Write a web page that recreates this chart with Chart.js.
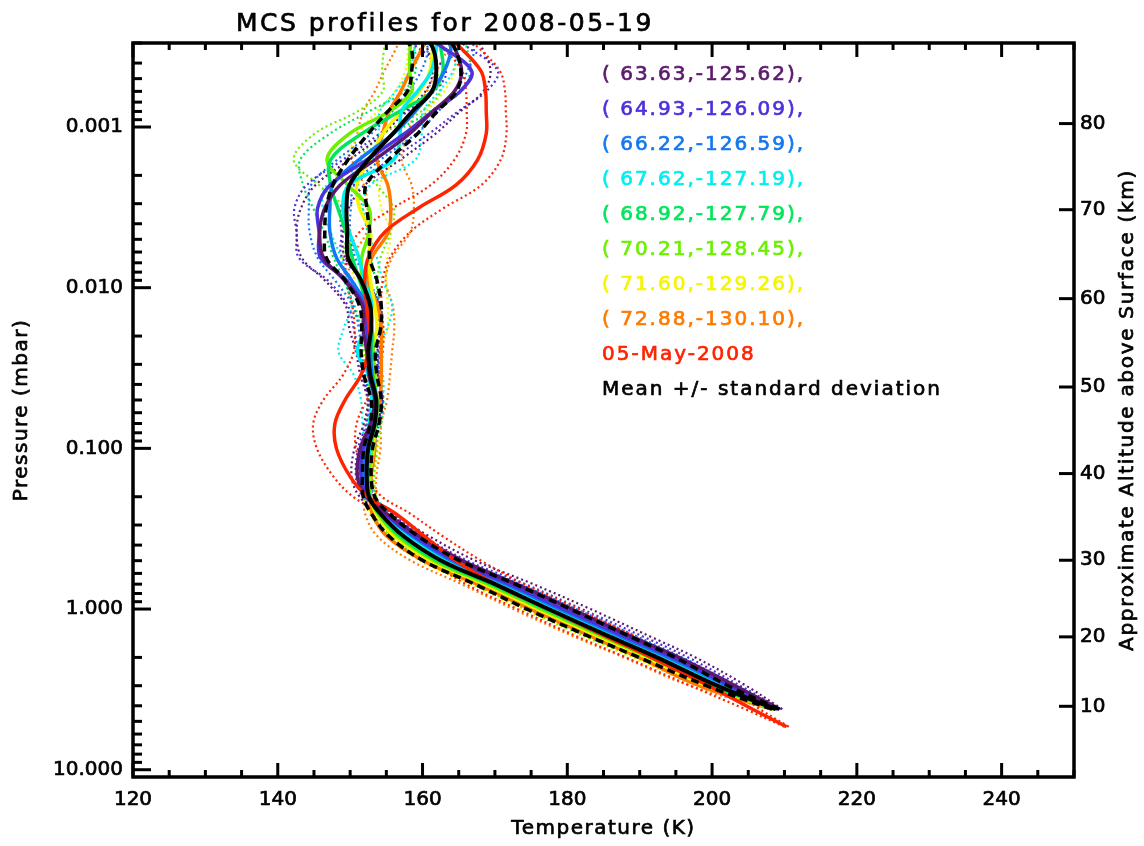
<!DOCTYPE html>
<html>
<head>
<meta charset="utf-8">
<title>MCS profiles for 2008-05-19</title>
<script src="https://cdn.jsdelivr.net/npm/chart.js@4.4.1/dist/chart.umd.min.js"></script>
<style>
  html, body { margin: 0; padding: 0; background: #fff; }
  #wrap { width: 1144px; height: 846px; }
</style>
</head>
<body>
<div id="wrap"><canvas id="profileChart" width="1144" height="846"></canvas></div>
<script>
// Pressure levels (mbar) shared by every profile, surface side first
const pressure = [5.4, 4.2, 3.0, 2.0, 1.5, 1.0, 0.7, 0.5, 0.35, 0.25, 0.2, 0.15, 0.1, 0.07, 0.05,
  0.035, 0.025, 0.018, 0.013, 0.009, 0.0065, 0.0045, 0.0032, 0.0023, 0.0016, 0.0011, 0.0008,
  0.0006, 0.00045, 0.00032, 0.00025];

// Axis ticks
const tempTicks = [120, 140, 160, 180, 200, 220, 240];
const pressureTicks = [0.001, 0.01, 0.1, 1, 10];
const altitudeKm = [80, 70, 60, 50, 40, 30, 20, 10];
const altitudePressure = [0.000952, 0.00327, 0.0117, 0.0415, 0.1435, 0.497, 1.49, 4.03];

// Profile labels (lat, lon)
const locLabels = ['( 63.63,-125.62),', '( 64.93,-126.09),', '( 66.22,-126.59),', '( 67.62,-127.19),',
  '( 68.92,-127.79),', '( 70.21,-128.45),', '( 71.60,-129.26),', '( 72.88,-130.10),'];
const refLabel = '05-May-2008';
const meanLabel = 'Mean +/- standard deviation';

// Temperature (K) of each location profile, one value per pressure level
const temp6363 = [null, 209.3, 203.2, 195.4, 189.1, 180.6, 173.0, 165.5, 159.5, 154.8, 152.2, 151.0, 151.4, 152.8, 153.4,
  152.6, 152.3, 151.8, 151.7, 149.2, 146.3, 145.8, 146.5, 148.6, 153.4, 158.2, 161.4, 164.4, 165.4, 164.4, 163.0];
const temp6493 = [null, 209.1, 202.5, 194.5, 188.2, 179.5, 172.0, 164.5, 158.8, 154.6, 152.5, 151.5, 151.8, 153.0, 153.5,
  152.8, 152.5, 152.3, 151.9, 149.5, 145.9, 145.7, 145.5, 147.2, 152.3, 157.5, 161.4, 165.2, 166.8, 162.8, 159.0];
const temp6622 = [null, 209.0, 202.1, 193.9, 187.6, 178.9, 171.5, 164.0, 158.5, 154.5, 152.6, 151.9, 152.2, 153.2, 153.6,
  153.0, 152.8, 152.8, 152.3, 150.2, 148.1, 147.2, 147.2, 147.6, 151.2, 156.0, 159.0, 161.2, 163.0, 163.9, 162.5];
const temp6762 = [null, 208.9, 201.7, 193.4, 187.1, 178.4, 171.0, 163.6, 158.1, 154.4, 152.7, 152.3, 152.7, 152.7, 153.0,
  152.5, 151.0, 152.1, 153.0, 152.0, 151.2, 149.9, 149.0, 149.8, 156.0, 156.9, 157.1, 159.3, 161.2, 161.9, 161.9];
const temp6892 = [null, 208.7, 200.2, 191.9, 185.6, 176.9, 169.5, 162.1, 156.9, 153.9, 152.7, 152.4, 152.7, 153.5, 153.7,
  153.1, 152.9, 153.0, 152.4, 151.3, 150.3, 149.4, 148.3, 147.3, 147.3, 151.6, 156.8, 161.4, 162.8, 162.5, 161.9];
const temp7021 = [null, 208.6, 199.7, 191.4, 185.1, 176.4, 169.0, 161.6, 156.5, 153.7, 152.8, 152.6, 153.0, 153.0, 153.4,
  153.4, 153.2, 153.0, 152.0, 151.6, 151.6, 152.6, 152.6, 149.7, 146.8, 149.9, 155.4, 158.5, 158.2, 158.3, 158.5];
const temp7160 = [null, 208.5, 199.2, 190.9, 184.6, 175.9, 168.5, 161.1, 156.0, 153.5, 152.8, 152.7, 153.2, 153.4, 153.6,
  153.4, 153.0, 153.7, 153.4, 152.8, 152.6, 152.8, 151.3, 150.9, 152.7, 154.5, 157.1, 159.6, 161.0, 161.4, 161.5];
const temp7288 = [null, 208.3, 198.2, 189.9, 183.6, 174.9, 167.5, 160.1, 155.0, 153.0, 152.8, 152.9, 153.4, 153.4, 154.1,
  154.3, 154.3, 154.3, 153.8, 152.4, 153.0, 155.3, 155.6, 155.2, 153.7, 154.5, 155.4, 157.0, 158.3, 160.0, 161.0];

// Standard deviation (K) of each location profile
const std6363 = [null, 0.4, 1.5, 2.3, 2.6, 2.6, 2.3, 1.8, 1.3, 1.0, 0.9, 0.8, 0.8, 0.9, 1.0,
  1.2, 1.5, 1.9, 2.3, 2.7, 3.0, 3.2, 3.3, 3.4, 3.5, 3.6, 3.8, 4.0, 4.0, 3.8, 3.8];
const std6493 = [null, 0.4, 1.4, 2.2, 2.5, 2.5, 2.2, 1.7, 1.2, 0.9, 0.8, 0.7, 0.7, 0.8, 1.0,
  1.1, 1.4, 1.8, 2.2, 2.6, 3.0, 3.1, 3.2, 3.2, 3.3, 3.4, 3.5, 3.6, 3.6, 3.5, 3.5];
const std6622 = [null, 0.3, 1.2, 2.0, 2.3, 2.3, 2.0, 1.6, 1.2, 0.9, 0.8, 0.7, 0.7, 0.8, 0.9,
  1.0, 1.3, 1.6, 1.9, 2.3, 2.6, 2.8, 2.9, 3.0, 3.0, 3.1, 3.2, 3.2, 3.2, 3.2, 3.2];
const std6762 = [null, 0.3, 1.2, 2.0, 2.3, 2.3, 2.0, 1.6, 1.2, 0.9, 0.8, 0.7, 0.8, 1.0, 1.5,
  2.0, 2.6, 3.0, 2.8, 2.5, 2.5, 2.6, 2.8, 3.0, 3.0, 3.0, 3.0, 3.0, 3.0, 3.0, 3.0];
const std6892 = [null, 0.3, 1.1, 1.9, 2.2, 2.2, 1.9, 1.5, 1.1, 0.9, 0.8, 0.7, 0.7, 0.8, 0.9,
  1.0, 1.2, 1.5, 1.8, 2.2, 2.6, 3.0, 3.4, 3.8, 4.2, 4.4, 4.2, 4.0, 3.8, 3.6, 3.5];
const std7021 = [null, 0.3, 1.1, 1.9, 2.2, 2.2, 1.9, 1.5, 1.1, 0.9, 0.8, 0.7, 0.7, 0.8, 0.9,
  1.0, 1.2, 1.5, 1.8, 2.2, 2.6, 3.0, 3.4, 4.0, 4.6, 4.8, 4.4, 4.0, 3.8, 3.6, 3.5];
const std7160 = [null, 0.3, 1.1, 1.9, 2.2, 2.2, 1.9, 1.5, 1.1, 0.9, 0.8, 0.7, 0.7, 0.8, 0.9,
  1.0, 1.2, 1.5, 1.8, 2.2, 2.5, 2.8, 3.0, 3.2, 3.3, 3.4, 3.4, 3.4, 3.4, 3.4, 3.4];
const std7288 = [null, 0.3, 1.3, 2.1, 2.4, 2.4, 2.1, 1.7, 1.3, 1.0, 0.8, 0.7, 0.8, 0.9, 1.0,
  1.2, 1.5, 1.8, 2.1, 2.5, 2.8, 3.0, 3.2, 3.3, 3.4, 3.5, 3.6, 3.6, 3.6, 3.6, 3.6];

// 05-May-2008 reference profile and its spread
const may05Temp = [210.3, 205.6, 199.5, 191.6, 185.6, 177.3, 170.0, 164.6, 160.2, 156.0, 152.4, 150.0, 148.1, 147.9, 149.3,
  151.5, 152.5, 152.6, 152.3, 152.0, 152.5, 154.8, 159.4, 164.6, 167.6, 168.8, 168.8, 168.7, 168.1, 165.2, 162.3];
const may05Std = [0.3, 1.0, 2.5, 3.5, 4.0, 4.2, 4.0, 3.5, 2.5, 2.0, 2.0, 2.3, 2.7, 3.0, 3.0,
  2.5, 2.0, 2.0, 2.0, 2.5, 3.0, 3.5, 3.5, 3.5, 3.2, 2.8, 2.7, 2.7, 2.6, 2.5, 2.5];

// Mean of all locations and its standard deviation
const meanTemp = [null, 208.8, 200.7, 192.4, 186.1, 177.4, 170.0, 162.6, 157.3, 154.0, 152.6, 152.3, 152.5, 153.4, 153.6,
  152.8, 152.5, 152.9, 152.8, 151.5, 149.7, 149.6, 149.5, 149.9, 152.5, 155.9, 158.6, 161.3, 161.9, 161.4, 159.5];
const meanStd = [null, 0.5, 1.5, 2.5, 2.8, 3.0, 2.8, 2.5, 2.0, 1.2, 0.8, 0.6, 0.6, 0.6, 0.7,
  0.9, 1.0, 1.3, 1.5, 2.2, 3.0, 3.1, 2.8, 2.3, 2.8, 3.4, 3.4, 3.4, 3.4, 3.0, 3.0];

const locTemps = [temp6363, temp6493, temp6622, temp6762, temp6892, temp7021, temp7160, temp7288];
const locStds = [std6363, std6493, std6622, std6762, std6892, std7021, std7160, std7288];

// Styling
const FONT = '"DejaVu Sans", sans-serif';
const locColors = ['#5c1a6e', '#4b32dc', '#1478f0', '#00eeee', '#00e65a', '#6cf000', '#f5f500', '#ff7a00'];
const refColor = '#ff2400';
const chartTitle = 'MCS profiles for 2008-05-19';

// Turn a temperature column into {x, y} points, shifted by sign * std
function profilePoints(temps, std, sign) {
  return pressure
    .map((p, i) => ({ x: temps[i] === null ? null : temps[i] + (std ? sign * std[i] : 0), y: p }))
    .filter(pt => pt.x !== null);
}

function solidLine(temps, color, width, order) {
  return { data: profilePoints(temps), borderColor: color, borderWidth: width, order: order };
}

function spreadLine(temps, std, sign, color, dash, width, order) {
  return { data: profilePoints(temps, std, sign), borderColor: color, borderWidth: width, borderDash: dash, order: order };
}

const datasets = [];
// Mean (black) goes on top
datasets.push(solidLine(meanTemp, '#000', 4, 0));
datasets.push(spreadLine(meanTemp, meanStd, 1, '#000', [8, 5], 3.5, 1));
datasets.push(spreadLine(meanTemp, meanStd, -1, '#000', [8, 5], 3.5, 1));
// 05-May-2008
datasets.push(solidLine(may05Temp, refColor, 3.5, 1));
datasets.push(spreadLine(may05Temp, may05Std, 1, refColor, [2, 3], 2.2, 3));
datasets.push(spreadLine(may05Temp, may05Std, -1, refColor, [2, 3], 2.2, 3));
// Locations
locTemps.forEach((temps, i) => {
  datasets.push(solidLine(temps, locColors[i], 3.5, 2));
  datasets.push(spreadLine(temps, locStds[i], 1, locColors[i], [2, 3], 2.2, 3));
  datasets.push(spreadLine(temps, locStds[i], -1, locColors[i], [2, 3], 2.2, 3));
});

// Frame and inward tick marks, IDL style
const xMinorStep = 5;
const axisFrame = {
  id: 'axisFrame',
  afterDatasetsDraw(chart) {
    const { ctx, chartArea: a, scales } = chart;
    const x = scales.x, y = scales.y, alt = scales.alt;
    const line = (x1, y1, x2, y2, w) => {
      ctx.lineWidth = w;
      ctx.beginPath();
      ctx.moveTo(x1, y1);
      ctx.lineTo(x2, y2);
      ctx.stroke();
    };
    ctx.save();
    ctx.strokeStyle = '#000';
    ctx.lineCap = 'butt';
    for (let t = x.min; t <= x.max; t += xMinorStep) {
      const px = x.getPixelForValue(t);
      const len = tempTicks.includes(t) ? 14 : 7;
      line(px, a.bottom, px, a.bottom - len, 3);
      line(px, a.top, px, a.top + len, 3);
    }
    for (let d = -4; d <= 1; d++) {
      for (let m = 1; m <= 9; m++) {
        const v = m * Math.pow(10, d);
        if (v < y.min || v > y.max) continue;
        const py = y.getPixelForValue(v);
        line(a.left, py, a.left + (m === 1 ? 18 : 9), py, 3);
      }
    }
    altitudePressure.forEach(v => {
      const py = alt.getPixelForValue(v);
      line(a.right, py, a.right - 15, py, 3);
    });
    ctx.lineWidth = 3.5;
    ctx.strokeRect(a.left, a.top, a.right - a.left, a.bottom - a.top);
    ctx.restore();
  }
};

// Title, axis titles and the text-only legend (fill plus a thin stroke for weight)
const textLayer = {
  id: 'textLayer',
  afterDraw(chart) {
    const { ctx, chartArea: a } = chart;
    const write = (text, x, y, color) => {
      ctx.fillStyle = color;
      ctx.strokeStyle = color;
      ctx.fillText(text, x, y);
      ctx.strokeText(text, x, y);
    };
    ctx.save();
    ctx.lineWidth = 0.7;
    ctx.textBaseline = 'alphabetic';
    ctx.textAlign = 'left';
    ctx.font = '25px ' + FONT;
    ctx.letterSpacing = '2.5px';
    write(chartTitle, 236, 31, '#000');

    ctx.font = '20px ' + FONT;
    ctx.letterSpacing = '2px';
    const rows = locLabels.map((t, i) => ({ text: t, color: locColors[i] }));
    rows.push({ text: refLabel, color: refColor });
    rows.push({ text: meanLabel, color: '#000' });
    rows.forEach((r, i) => write(r.text, 602, 80 + i * 35, r.color));

    ctx.textAlign = 'center';
    ctx.textBaseline = 'middle';
    ctx.letterSpacing = '1.5px';
    write('Temperature (K)', (a.left + a.right) / 2, 829, '#000');

    ctx.translate(22, (a.top + a.bottom) / 2);
    ctx.rotate(-Math.PI / 2);
    write('Pressure (mbar)', 0, 0, '#000');
    ctx.setTransform(1, 0, 0, 1, 0, 0);

    ctx.letterSpacing = '1.7px';
    ctx.translate(1128, (a.top + a.bottom) / 2);
    ctx.rotate(-Math.PI / 2);
    write('Approximate Altitude above Surface (km)', 0, 0, '#000');
    ctx.restore();
  }
};

const tickFont = { family: FONT, size: 20 };
const tickStyle = { font: tickFont, color: '#000', textStrokeColor: '#000', textStrokeWidth: 0.7, autoSkip: false };

new Chart(document.getElementById('profileChart').getContext('2d'), {
  type: 'line',
  data: { datasets: datasets },
  options: {
    responsive: false,
    animation: false,
    events: [],
    layout: { padding: { top: 43, left: 0, right: 0, bottom: 0 } },
    elements: {
      point: { radius: 0 },
      line: { tension: 0.35, fill: false, borderCapStyle: 'butt' }
    },
    plugins: {
      legend: { display: false },
      tooltip: { enabled: false },
      title: { display: false }
    },
    scales: {
      x: {
        type: 'linear',
        position: 'bottom',
        min: 120,
        max: 250,
        grid: { display: false, drawTicks: false },
        border: { display: false },
        afterBuildTicks: s => { s.ticks = tempTicks.map(v => ({ value: v })); },
        ticks: { ...tickStyle, padding: 11, maxRotation: 0 },
        afterFit: s => { s.height = 69; }
      },
      y: {
        type: 'logarithmic',
        position: 'left',
        min: 0.0003,
        max: 11.1,
        reverse: true,
        grid: { display: false, drawTicks: false },
        border: { display: false },
        afterBuildTicks: s => { s.ticks = pressureTicks.map(v => ({ value: v })); },
        ticks: { ...tickStyle, padding: 10, callback: v => v.toFixed(3) },
        afterFit: s => { s.width = 133; }
      },
      alt: {
        type: 'logarithmic',
        position: 'right',
        min: 0.0003,
        max: 11.1,
        reverse: true,
        grid: { display: false, drawTicks: false },
        border: { display: false },
        afterBuildTicks: s => { s.ticks = altitudePressure.map(v => ({ value: v })); },
        ticks: { ...tickStyle, padding: 6, callback: (v, i) => altitudeKm[i] },
        afterFit: s => { s.width = 70; }
      }
    }
  },
  plugins: [axisFrame, textLayer]
});
</script>
</body>
</html>
